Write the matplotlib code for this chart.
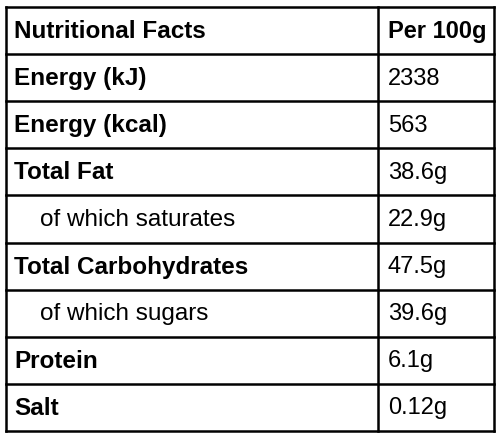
import matplotlib.pyplot as plt

plt.rcParams['font.family'] = ['Liberation Sans', 'DejaVu Sans']

labels = ["Nutritional Facts", "Energy (kJ)", "Energy (kcal)", "Total Fat",
          "of which saturates", "Total Carbohydrates", "of which sugars",
          "Protein", "Salt"]
values = ["Per 100g", "2338", "563", "38.6g", "22.9g", "47.5g", "39.6g",
          "6.1g", "0.12g"]
bold = [True, True, True, True, False, True, False, True, True]
indent = [False, False, False, False, True, False, True, False, False]

fig = plt.figure(figsize=(5, 4.39), dpi=100)
ax = fig.add_axes([0, 0, 1, 1])
ax.set_xlim(0, 500)
ax.set_ylim(439, 0)
ax.axis("off")

top, bottom, left, right, mid = 8, 432, 6, 494, 378
h = (bottom - top) / len(labels)

for i in range(len(labels) + 1):
    y = top + i * h
    ax.plot([left, right], [y, y], color="black", lw=1.8)
ax.plot([left, left], [top, bottom], color="black", lw=1.8)
ax.plot([right, right], [top, bottom], color="black", lw=1.8)
ax.plot([mid, mid], [top, bottom], color="black", lw=1.8)

for i, (lab, val) in enumerate(zip(labels, values)):
    yc = top + (i + 0.5) * h
    ax.text(40 if indent[i] else 14, yc, lab, va="center", ha="left",
            fontsize=17.5, fontweight="bold" if bold[i] else "normal")
    ax.text(388, yc, val, va="center", ha="left", fontsize=17,
            fontweight="bold" if i == 0 else "normal")

fig.savefig("out.png", dpi=100)
